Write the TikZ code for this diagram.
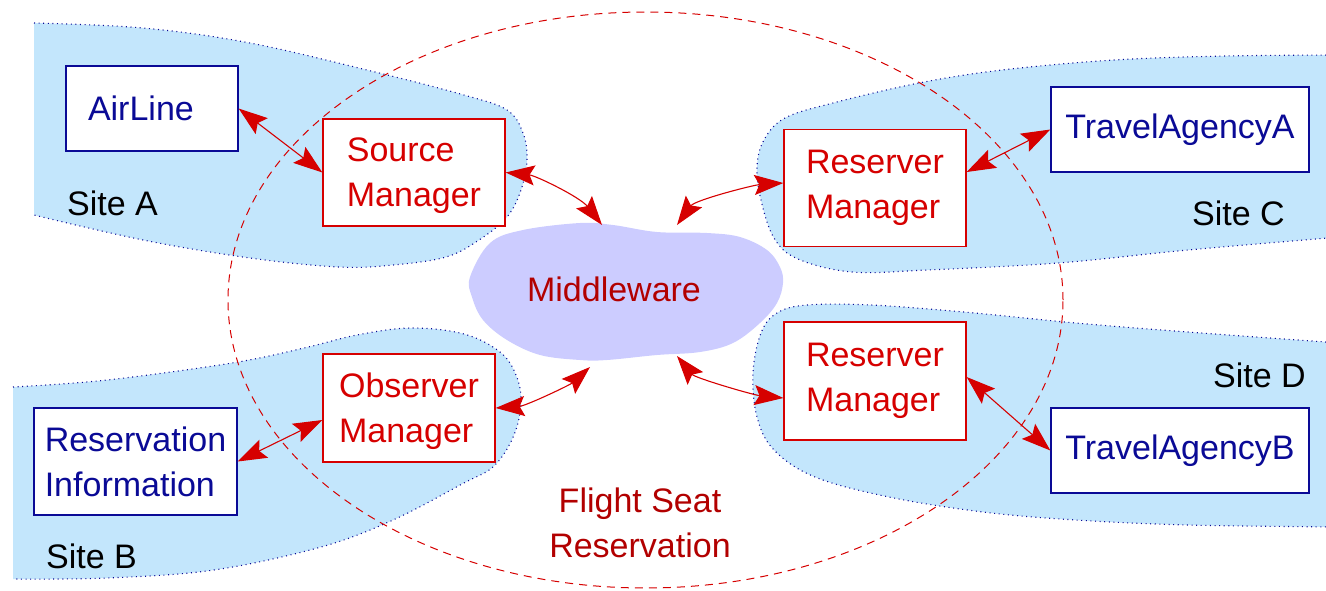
\documentclass[tikz,border=0pt]{standalone}
\usepackage{fontspec}
\setmainfont{Liberation Sans}
\usetikzlibrary{arrows.meta}

\definecolor{sitefill}{RGB}{195,230,252}
\definecolor{cloudfill}{RGB}{204,204,255}
\definecolor{mgrred}{RGB}{214,0,0}
\definecolor{darkred}{RGB}{178,0,0}
\definecolor{appnavy}{RGB}{10,10,150}

\tikzset{
  lbl/.style={font=\fontsize{34}{45}\selectfont, inner sep=0pt},
  appbox/.style={lbl, draw=appnavy, fill=white, text=appnavy, line width=1.3pt,
    align=left},
  mgrbox/.style={lbl, draw=mgrred, fill=white, text=mgrred, line width=1.3pt,
    align=left},
  sitearea/.style={fill=sitefill},
  siteedge/.style={draw=appnavy, line width=1.1pt, dash pattern=on 1pt off 3.6pt},
  link/.style={draw=mgrred, line width=1.1pt,
    {Stealth[length=29pt,width=20pt,inset=5pt]}-{Stealth[length=29pt,width=20pt,inset=5pt]}},
  sitelbl/.style={lbl, anchor=base west, text=black},
}

\begin{document}
\begin{tikzpicture}[x=1pt,y=-1pt]
\useasboundingbox (0,0) rectangle (1326,590);
\clip (0,0) rectangle (1326,590);

% ---- sites ----
% Site A
\fill[sitearea] plot[smooth, tension=0.6] coordinates {(34,23) (143,28) (250,43) (375,72) (464,95) (507,110) (523,133) (527,160) (521,190) (507,217) (479,240) (446,257) (393,265) (339,267) (250,258) (143,240) (34,215)} -- cycle;
\draw[siteedge] plot[smooth, tension=0.6] coordinates {(34,23) (143,28) (250,43) (375,72) (464,95) (507,110) (523,133) (527,160) (521,190) (507,217) (479,240) (446,257) (393,265) (339,267) (250,258) (143,240) (34,215)};
% Site B
\fill[sitearea] plot[smooth, tension=0.6] coordinates {(13,387) (107,380) (232,363) (304,348) (357,335) (411,328) (464,334) (500,352) (516,375) (521,402) (514,435) (494,466) (462,484) (393,520) (321,547) (214,570) (107,578) (13,579)} -- cycle;
\draw[siteedge] plot[smooth, tension=0.6] coordinates {(13,387) (107,380) (232,363) (304,348) (357,335) (411,328) (464,334) (500,352) (516,375) (521,402) (514,435) (494,466) (462,484) (393,520) (321,547) (214,570) (107,578) (13,579)};
% Site C
\fill[sitearea] plot[smooth, tension=0.6] coordinates {(1340,55) (1226,56) (1114,60) (1002,70) (919,83) (833,103) (785,118) (764,140) (757,167) (761,200) (774,238) (798,259) (852,272) (927,270) (1058,263) (1188,250) (1340,237)} -- cycle;
\draw[siteedge] plot[smooth, tension=0.6] coordinates {(1340,55) (1226,56) (1114,60) (1002,70) (919,83) (833,103) (785,118) (764,140) (757,167) (761,200) (774,238) (798,259) (852,272) (927,270) (1058,263) (1188,250) (1340,237)};
% Site D
\fill[sitearea] plot[smooth, tension=0.6] coordinates {(1340,343) (1188,332) (1076,323) (964,312) (871,305) (807,305) (777,313) (761,333) (753,373) (757,417) (774,450) (815,477) (889,497) (983,512) (1076,520) (1188,525) (1340,527)} -- cycle;
\draw[siteedge] plot[smooth, tension=0.6] coordinates {(1340,343) (1188,332) (1076,323) (964,312) (871,305) (807,305) (777,313) (761,333) (753,373) (757,417) (774,450) (815,477) (889,497) (983,512) (1076,520) (1188,525) (1340,527)};

% ---- application boundary ----
\draw[mgrred, line width=1pt, dash pattern=on 8pt off 6pt] (645.5,300) ellipse [x radius=417.5pt, y radius=288pt];

% ---- middleware cloud ----
\fill[cloudfill] plot[smooth cycle, tension=0.6] coordinates {(490,243) (523,230) (580,223) (613,225) (657,232) (707,233) (740,237) (767,250) (780,267) (783,283) (777,303) (760,323) (733,343) (700,352) (657,355) (607,360) (580,360) (540,355) (507,340) (483,320) (472,297) (470,277)};
\node[lbl, text=darkred] (mw) at (614,289) {Middleware};
\coordinate (mwA) at (602,225);
\coordinate (mwB) at (677,225);
\coordinate (mwC) at (590,367);
\coordinate (mwD) at (677,356);

% ---- components ----
\node[appbox, text width=128pt, inner xsep=22pt, minimum height=85pt] (air) at (152,108.5) {AirLine};
\node[mgrbox, text depth=0pt, minimum width=182pt, minimum height=107pt] (src) at (414,172.5) {Source\\Manager};
\node[mgrbox, minimum width=182pt, minimum height=117pt] (rmA) at (875,188) {Reserver\\Manager};
\node[appbox, minimum width=258pt, minimum height=85pt] (taA) at (1180,129.5) {TravelAgencyA};
\node[mgrbox, text depth=0pt, minimum width=172pt, minimum height=108pt] (obs) at (409,408) {Observer\\Manager};
\node[appbox, minimum width=203pt, minimum height=107pt] (ri) at (135.5,461.5) {Reservation\\Information};
\node[mgrbox, minimum width=182pt, minimum height=118pt] (rmB) at (875,381) {Reserver\\Manager};
\node[appbox, minimum width=258pt, minimum height=85pt] (taB) at (1180,450.5) {TravelAgencyB};

% ---- labels ----
\node[sitelbl] (siteA) at (67,215) {Site A};
\node[sitelbl] (siteB) at (46,568) {Site B};
\node[sitelbl] (siteC) at (1192,225) {Site C};
\node[sitelbl] (siteD) at (1213,387) {Site D};
\node[lbl, text=darkred, align=center] (app) at (640,523) {Flight Seat\\Reservation};

% ---- connectors ----
\draw[link] (air.east) -- (src.west);
\draw[link] (src.east) .. controls +(30,3) and +(-22,-28) .. (mwA);
\draw[link] (mwB) .. controls +(18,-25) and +(-30,2) .. ([yshift=5pt]rmA.west);
\draw[link] ([yshift=16pt]rmA.east) -- (taA.west);
\draw[link] (obs.east) .. controls +(30,-2) and +(-20,18) .. (mwC);
\draw[link] (ri.east) -- ([yshift=-12pt]obs.west);
\draw[link] (mwD) .. controls +(18,22) and +(-30,-3) .. ([yshift=-17pt]rmB.west);
\draw[link] ([yshift=4pt]rmB.east) -- (taB.west);
\end{tikzpicture}
\end{document}
